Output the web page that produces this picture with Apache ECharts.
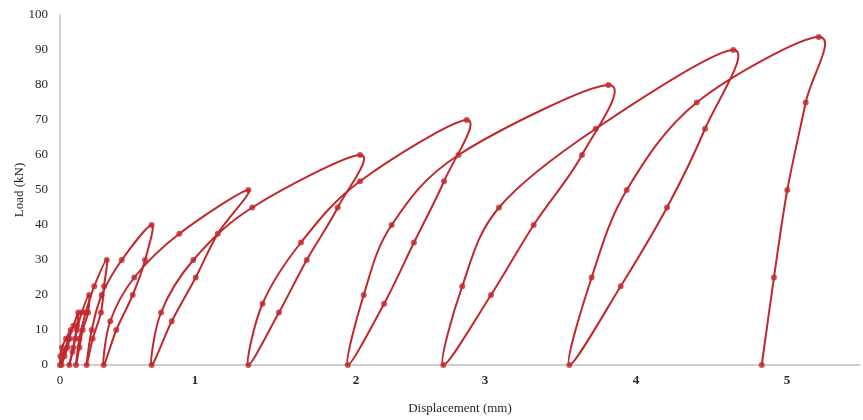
<!DOCTYPE html>
<html>
<head>
<meta charset="utf-8">
<script src="https://cdn.jsdelivr.net/npm/echarts@6/dist/echarts.min.js"></script>
<style>
  html, body { margin: 0; padding: 0; background: #ffffff; }
  #chart { width: 863px; height: 420px; }
</style>
</head>
<body>
<div id="chart"></div>
<script>
// Cyclic load test: each cycle loads to a peak, then unloads to a residual displacement.
// Displacement in mm, load in kN, listed in test order.
const displacementMm = [
  0,
  // to 10 kN and back
  0.003, 0.014, 0.043, 0.076, 0.068, 0.053, 0.032, 0.011,
  // to 15 kN and back
  0.028, 0.061, 0.096, 0.130, 0.121, 0.107, 0.089, 0.066,
  // to 20 kN and back
  0.095, 0.121, 0.155, 0.207, 0.200, 0.162, 0.138, 0.114,
  // to 30 kN and back
  0.138, 0.183, 0.244, 0.333, 0.314, 0.292, 0.233, 0.190,
  // to 40 kN and back
  0.226, 0.297, 0.440, 0.653, 0.606, 0.518, 0.401, 0.311,
  // to 50 kN and back
  0.358, 0.529, 0.850, 1.342, 1.124, 0.967, 0.796, 0.653,
  // to 60 kN and back
  0.720, 0.950, 1.370, 2.138, 1.979, 1.758, 1.560, 1.342,
  // to 70 kN and back
  1.443, 1.717, 2.138, 2.898, 2.736, 2.522, 2.309, 2.050,
  // to 80 kN and back
  2.164, 2.363, 2.839, 3.907, 3.719, 3.375, 3.071, 2.731,
  // to 90 kN and back
  2.866, 3.128, 3.817, 4.797, 4.596, 4.325, 3.995, 3.629,
  // final cycle
  3.788, 4.038, 4.537, 5.406, 5.313, 5.182, 5.087, 5.000
];
const loadKN = [
  0,
  2.5, 5, 7.5, 10, 7.5, 5, 2.5, 0,
  3.75, 7.5, 11.25, 15, 11.25, 7.5, 3.75, 0,
  5, 10, 15, 20, 15, 10, 5, 0,
  7.5, 15, 22.5, 30, 22.5, 15, 7.5, 0,
  10, 20, 30, 40, 30, 20, 10, 0,
  12.5, 25, 37.5, 50, 37.5, 25, 12.5, 0,
  15, 30, 45, 60, 45, 30, 15, 0,
  17.5, 35, 52.5, 70, 52.5, 35, 17.5, 0,
  20, 40, 60, 80, 60, 40, 20, 0,
  22.5, 45, 67.5, 90, 67.5, 45, 22.5, 0,
  25, 50, 75, 93.7, 75, 50, 25, 0
];

// Displacement axis labels and where they sit along the axis (mm)
const xTickText = ['0', '1', '2', '3', '4', '5'];
const xTickAt = [0, 0.962, 2.109, 3.028, 4.104, 5.180];
const yTicks = [0, 10, 20, 30, 40, 50, 60, 70, 80, 90, 100];

const points = displacementMm.map((d, i) => [d, loadKN[i]]);

const RED = '#c0282d';
const serif = '"Liberation Serif", "Times New Roman", serif';
const chart = echarts.init(document.getElementById('chart'), null, { renderer: 'canvas' });

// Smoothed curve: each segment is a cubic Bezier whose control points follow
// the Catmull-Rom tangents of the neighbouring points (loops round at the peaks).
function renderSegment(params, api) {
  const i = params.dataIndex;
  if (i === 0) return null;
  const last = points.length - 1;
  const at = k => api.coord(points[Math.max(0, Math.min(last, k))]);
  const p0 = at(i - 2), p1 = at(i - 1), p2 = at(i), p3 = at(i + 1);
  return {
    type: 'bezierCurve',
    shape: {
      x1: p1[0], y1: p1[1],
      x2: p2[0], y2: p2[1],
      cpx1: p1[0] + (p2[0] - p0[0]) / 6,
      cpy1: p1[1] + (p2[1] - p0[1]) / 6,
      cpx2: p2[0] - (p3[0] - p1[0]) / 6,
      cpy2: p2[1] - (p3[1] - p1[1]) / 6
    },
    style: { stroke: RED, lineWidth: 2, fill: null, lineCap: 'round' }
  };
}

chart.setOption({
  animation: false,
  backgroundColor: '#ffffff',
  grid: { left: 60, right: 3, top: 15, bottom: 55, containLabel: false },
  xAxis: {
    type: 'value',
    min: 0,
    max: 5.7,
    name: 'Displacement (mm)',
    nameLocation: 'middle',
    nameGap: 37,
    nameMoveOverlap: false,
    nameTextStyle: { fontFamily: serif, fontSize: 13, color: '#262626' },
    axisLine: { show: true, lineStyle: { color: '#bfbfbf', width: 1.5 } },
    axisTick: { show: false },
    splitLine: { show: false },
    axisLabel: {
      customValues: xTickAt,
      margin: 9,
      fontFamily: serif,
      fontSize: 13,
      color: '#262626',
      formatter: function (value) {
        const idx = xTickAt.indexOf(value);
        const text = idx >= 0 ? xTickText[idx] : '';
        return idx > 0 ? '{b|' + text + '}' : text;
      },
      rich: { b: { fontFamily: serif, fontSize: 13, fontWeight: 'bold', color: '#262626' } }
    }
  },
  yAxis: {
    type: 'value',
    min: 0,
    max: 100,
    interval: 10,
    name: 'Load (kN)',
    nameLocation: 'middle',
    nameRotate: 90,
    nameGap: 34,
    nameMoveOverlap: false,
    nameTextStyle: { fontFamily: serif, fontSize: 13, color: '#262626' },
    axisLine: { show: true, lineStyle: { color: '#bfbfbf', width: 1.5 } },
    axisTick: { show: false },
    splitLine: { show: false },
    axisLabel: {
      margin: 12,
      fontFamily: serif,
      fontSize: 13,
      color: '#262626',
      formatter: function (v) { return yTicks.indexOf(v) >= 0 ? String(v) : ''; }
    }
  },
  series: [
    {
      type: 'custom',
      data: points,
      encode: { x: 0, y: 1 },
      renderItem: renderSegment,
      z: 2
    },
    {
      type: 'scatter',
      data: points,
      symbol: 'circle',
      symbolSize: 6,
      itemStyle: { color: RED },
      z: 3
    }
  ]
});
</script>
</body>
</html>
